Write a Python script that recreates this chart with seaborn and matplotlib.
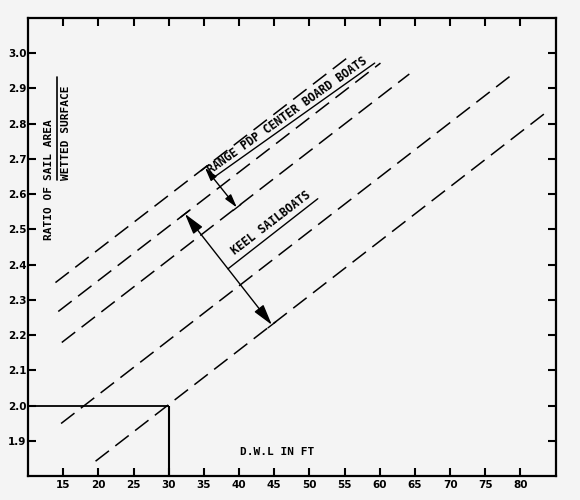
import matplotlib
matplotlib.use("Agg")
import matplotlib.pyplot as plt
import numpy as np
import pandas as pd
import seaborn as sns

# ---------------- data ----------------
line_ids = ["L1", "L2", "L3", "L4", "L5"]
dwl_start = [13.9, 14.3, 14.8, 14.7, 19.6]
dwl_end = [56.1, 60.1, 64.2, 78.6, 83.9]
ratio_start = [2.349, 2.267, 2.179, 1.949, 1.842]
ratio_end = [2.998, 2.972, 2.941, 2.936, 2.836]

x_ticks = [15, 20, 25, 30, 35, 40, 45, 50, 55, 60, 65, 70, 75, 80]
x_tick_labels = ["15", "20", "25", "30", "35", "40", "45", "50", "55", "60", "65", "70", "75", "80"]
y_ticks = [1.9, 2.0, 2.1, 2.2, 2.3, 2.4, 2.5, 2.6, 2.7, 2.8, 2.9, 3.0]
y_tick_labels = ["1.9", "2.0", "2.1", "2.2", "2.3", "2.4", "2.5", "2.6", "2.7", "2.8", "2.9", "3.0"]

ref_dwl = 30
ref_ratio = 2.0

# range arrows (start/end on the dashed lines)
cb_arrow_x = [35.15, 39.69]
cb_arrow_y = [2.675, 2.562]
keel_arrow_x = [32.31, 44.66]
keel_arrow_y = [2.544, 2.229]

# text leaders / underlines
cb_under_x = [36.3, 59.28]
cb_under_y = [2.646, 2.972]
keel_under_x = [38.42, 51.19]
keel_under_y = [2.388, 2.587]

cb_label = "RANGE PDP CENTER BOARD BOATS"
keel_label = "KEEL SAILBOATS"
x_label = "D.W.L IN FT"

# ---------------- style ----------------
sns.set_style("ticks")
BG = "#f4f4f4"
plt.rcParams["font.family"] = ["DejaVu Sans Mono", "DejaVu Sans"]
plt.rcParams["lines.scale_dashes"] = False
plt.rcParams["text.color"] = "black"
plt.rcParams["xtick.color"] = "black"
plt.rcParams["ytick.color"] = "black"
plt.rcParams["xtick.labelcolor"] = "black"
plt.rcParams["ytick.labelcolor"] = "black"

df = pd.DataFrame({
    "line": [l for l in line_ids for _ in range(2)],
    "dwl": [v for a, b in zip(dwl_start, dwl_end) for v in (a, b)],
    "ratio": [v for a, b in zip(ratio_start, ratio_end) for v in (a, b)],
})

fig = plt.figure(figsize=(5.8, 5.0), dpi=100, facecolor=BG)
ax = fig.add_axes([0.0483, 0.048, 0.958 - 0.0483, 0.964 - 0.048])
ax.set_facecolor(BG)

for lid in line_ids:
    sub = df[df["line"] == lid]
    sns.lineplot(data=sub, x="dwl", y="ratio", ax=ax, color="black",
                 linewidth=1.1, linestyle=(0, (12.2, 5.8)), estimator=None)

# reference box at 30 ft / 2.0
ax.plot([10, ref_dwl], [ref_ratio, ref_ratio], color="black", lw=1.3, solid_capstyle="butt")
ax.plot([ref_dwl, ref_dwl], [1.8, ref_ratio], color="black", lw=1.5, solid_capstyle="butt")

# range arrows
ax.annotate("", xy=(cb_arrow_x[1], cb_arrow_y[1]), xytext=(cb_arrow_x[0], cb_arrow_y[0]),
            arrowprops=dict(arrowstyle="<|-|>,head_length=0.8,head_width=0.22",
                            mutation_scale=10, color="black", lw=1.0,
                            shrinkA=0, shrinkB=0))
ax.annotate("", xy=(keel_arrow_x[1], keel_arrow_y[1]), xytext=(keel_arrow_x[0], keel_arrow_y[0]),
            arrowprops=dict(arrowstyle="<|-|>,head_length=0.8,head_width=0.22",
                            mutation_scale=16, color="black", lw=1.0,
                            shrinkA=0, shrinkB=0))

# small extension bars at the arrow tips (parallel to the dashed lines)
bar_dx, bar_dy = 0.55, 0.0085
for bx, by in zip(cb_arrow_x + keel_arrow_x, cb_arrow_y + keel_arrow_y):
    ax.plot([bx - bar_dx, bx + bar_dx], [by - bar_dy, by + bar_dy], color="black", lw=1.0)

# underlines / leaders
ax.plot(cb_under_x, cb_under_y, color="black", lw=1.0)
ax.plot(keel_under_x, keel_under_y, color="black", lw=1.0)

ax.annotate(cb_label, xy=(cb_under_x[0] + 0.1, cb_under_y[0]), xytext=(-0.8, 1.3),
            textcoords="offset points", rotation=35.4, rotation_mode="anchor",
            ha="left", va="bottom", fontsize=8.3, fontweight="bold", color="black")
ax.annotate(keel_label, xy=(39.9, 2.414), xytext=(-0.8, 1.3),
            textcoords="offset points", rotation=37.5, rotation_mode="anchor",
            ha="left", va="bottom", fontsize=8.3, fontweight="bold", color="black")

# y-axis label as a fraction
ax.text(0.0407, 0.515, "RATIO OF", transform=ax.transAxes, rotation=90,
        rotation_mode="anchor", ha="left", va="center", fontsize=8, fontweight="bold",
        color="black")
ax.text(0.0407, 0.646, "SAIL AREA", transform=ax.transAxes, rotation=90,
        rotation_mode="anchor", ha="left", va="center", fontsize=8, fontweight="bold",
        color="black")
ax.text(0.072, 0.646, "WETTED SURFACE", transform=ax.transAxes, rotation=90,
        rotation_mode="anchor", ha="left", va="center", fontsize=8, fontweight="bold",
        color="black")
ax.plot([0.055, 0.055], [0.646, 0.871], transform=ax.transAxes, color="black", lw=1.2)

ax.text(0.402, 0.053, x_label, transform=ax.transAxes, ha="left", va="center",
        fontsize=8, fontweight="bold", color="black")

# axes
ax.set_xlim(10, 85)
ax.set_ylim(1.8, 3.1)
ax.set_xticks(x_ticks)
ax.set_xticklabels(x_tick_labels)
ax.set_yticks(y_ticks)
ax.set_yticklabels(y_tick_labels)
ax.set_xlabel("")
ax.set_ylabel("")
for s in ax.spines.values():
    s.set_visible(True)
    s.set_linewidth(1.6)
    s.set_color("black")
ax.tick_params(axis="both", direction="in", length=5.8, width=1.5, color="black",
               labelcolor="black", top=True, right=True, labeltop=False, labelright=False)
ax.tick_params(axis="x", pad=3, labelsize=7.5)
ax.tick_params(axis="y", pad=1, labelsize=7.5)
for lab in ax.get_xticklabels() + ax.get_yticklabels():
    lab.set_fontweight("bold")
    lab.set_family(["DejaVu Sans", "DejaVu Sans Mono"])
    lab.set_color("black")

fig.savefig("out.png", dpi=100, facecolor=BG)
